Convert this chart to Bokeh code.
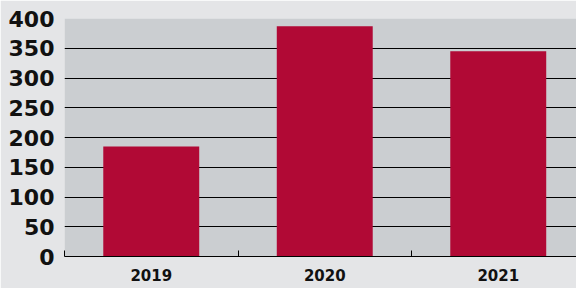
from bokeh.plotting import figure
from bokeh.models import Range1d, FixedTicker
from bokeh.embed import file_html
from bokeh.resources import INLINE

years = ["2019", "2020", "2021"]
values = [185, 387, 345]
y_ticks = [0, 50, 100, 150, 200, 250, 300, 350, 400]

xs = [i + 0.5 for i in range(len(years))]

p = figure(width=576, height=288, output_backend="svg", toolbar_location=None,
           x_range=Range1d(0, 2.951), y_range=Range1d(0, 400),
           min_border_left=64, min_border_right=0, min_border_top=18, min_border_bottom=32)
p.background_fill_color = "#cbced1"
p.border_fill_color = "#e4e5e7"
p.outline_line_color = None

p.vbar(x=xs, top=values, width=0.553, bottom=0, fill_color="#b10935", line_color=None)

p.xaxis.ticker = FixedTicker(ticks=xs, minor_ticks=[0, 1, 2, 3])
p.xaxis.major_label_overrides = {x: y for x, y in zip(xs, years)}
p.xaxis.major_tick_line_color = None
p.xaxis.major_tick_in = 0
p.xaxis.major_tick_out = 0
p.xaxis.minor_tick_in = 6
p.xaxis.minor_tick_out = 0
p.xaxis.minor_tick_line_color = "black"
p.xaxis.axis_line_color = "black"
p.xaxis.major_label_text_font = "DejaVu Sans"
p.xaxis.major_label_text_font_style = "bold"
p.xaxis.major_label_text_font_size = "15px"
p.xaxis.major_label_text_color = "#111111"
p.xaxis.major_label_standoff = 12

p.yaxis.ticker = FixedTicker(ticks=y_ticks)
p.yaxis.axis_line_color = None
p.yaxis.major_tick_line_color = None
p.yaxis.major_tick_in = 0
p.yaxis.major_tick_out = 0
p.yaxis.minor_tick_line_color = None
p.yaxis.major_label_text_font = "DejaVu Sans"
p.yaxis.major_label_text_font_style = "bold"
p.yaxis.major_label_text_font_size = "22px"
p.yaxis.major_label_text_color = "#111111"
p.yaxis.major_label_standoff = 10

p.xgrid.grid_line_color = None
p.ygrid.grid_line_color = "black"
p.ygrid.grid_line_width = 1

open("out.html", "w").write(file_html(p, INLINE))
